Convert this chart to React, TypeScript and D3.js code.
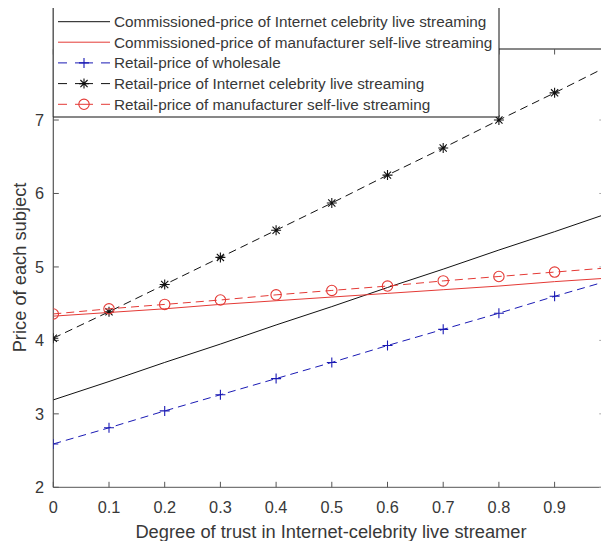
import React from "react";
import * as d3 from "d3";

// Degree of trust in the Internet-celebrity live streamer
const trust = [0, 0.1, 0.2, 0.3, 0.4, 0.5, 0.6, 0.7, 0.8, 0.9, 1.0];

// Price series
const commissionedCelebrity = [3.19, 3.44, 3.70, 3.95, 4.21, 4.46, 4.72, 4.97, 5.23, 5.48, 5.74];
const commissionedManufacturer = [4.33, 4.38, 4.43, 4.49, 4.54, 4.59, 4.64, 4.69, 4.74, 4.80, 4.85];
const retailWholesale = [2.59, 2.81, 3.04, 3.26, 3.48, 3.70, 3.93, 4.15, 4.37, 4.60, 4.82];
const retailCelebrity = [4.03, 4.39, 4.76, 5.13, 5.50, 5.87, 6.25, 6.62, 7.00, 7.37, 7.75];
const retailManufacturer = [4.36, 4.43, 4.49, 4.55, 4.62, 4.68, 4.74, 4.81, 4.87, 4.93, 4.99];

const xTicks = [0, 0.1, 0.2, 0.3, 0.4, 0.5, 0.6, 0.7, 0.8, 0.9];
const yTicks = [2, 3, 4, 5, 6, 7];

const seriesLabels = [
  "Commissioned-price of Internet celebrity live streaming",
  "Commissioned-price of manufacturer self-live streaming",
  "Retail-price of wholesale",
  "Retail-price of Internet celebrity live streaming",
  "Retail-price of manufacturer self-live streaming",
];

type Marker = "none" | "plus" | "star" | "circle";
interface Series {
  label: string;
  values: number[];
  color: string;
  dash: string | undefined;
  marker: Marker;
}

const BLUE = "#1a1ab4";
const RED = "#e43a36";
const BLACK = "#111111";
const AXIS = "#555555";
const TEXT = "#383838";

const series: Series[] = [
  { label: seriesLabels[0], values: commissionedCelebrity, color: BLACK, dash: undefined, marker: "none" },
  { label: seriesLabels[1], values: commissionedManufacturer, color: RED, dash: undefined, marker: "none" },
  { label: seriesLabels[2], values: retailWholesale, color: BLUE, dash: "8,5", marker: "plus" },
  { label: seriesLabels[3], values: retailCelebrity, color: BLACK, dash: "8,5", marker: "star" },
  { label: seriesLabels[4], values: retailManufacturer, color: RED, dash: "8,5", marker: "circle" },
];

const W = 601;
const H = 541;
const left = 53.3;
const bottom = 487.3;
const top = 49;
const xMax = 0.99;
const right = left + 557 * xMax;

const x = d3.scaleLinear().domain([0, xMax]).range([left, right]);
const y = d3.scaleLinear().domain([2, 7.967]).range([bottom, top]);

function MarkerGlyph({ kind, cx, cy, color }: { kind: Marker; cx: number; cy: number; color: string }) {
  const s = 5;
  if (kind === "plus") {
    return (
      <path d={`M${cx - s},${cy}H${cx + s}M${cx},${cy - s}V${cy + s}`} stroke={color} strokeWidth={1.1} fill="none" />
    );
  }
  if (kind === "star") {
    const d = s * 0.72;
    return (
      <path
        d={`M${cx - s},${cy}H${cx + s}M${cx},${cy - s}V${cy + s}M${cx - d},${cy - d}L${cx + d},${cy + d}M${cx - d},${cy + d}L${cx + d},${cy - d}`}
        stroke={color}
        strokeWidth={1.1}
        fill="none"
      />
    );
  }
  if (kind === "circle") {
    return <circle cx={cx} cy={cy} r={5.2} stroke={color} strokeWidth={1.1} fill="none" />;
  }
  return null;
}

export default function App() {
  const line = d3
    .line<number>()
    .x((_, i) => x(trust[i]))
    .y((v) => y(v));

  const legendX = left;
  const legendRight = 499;
  const legendTop = 8;
  const legendBottom = 117;
  const rowY = [21.7, 42.2, 62.9, 83.6, 104.3];
  const sampleX0 = 58;
  const sampleX1 = 110;
  const textX = 114;

  const tickLen = 5.5;

  return (
    <svg
      width={W}
      height={H}
      style={{ position: "absolute", left: 0, top: 0, background: "#fff", overflow: "hidden" }}
      fontFamily="'Liberation Sans', Arial, Helvetica, sans-serif"
    >
      <defs>
        <clipPath id="plot-area">
          <rect x={left} y={top} width={right - left} height={bottom - top} />
        </clipPath>
      </defs>
      <rect x={0} y={0} width={W} height={H} fill="#fff" />

      {/* axes box */}
      <line x1={left} x2={W} y1={bottom} y2={bottom} stroke={AXIS} strokeWidth={1} />
      <line x1={left} x2={W} y1={top} y2={top} stroke={BLACK} strokeWidth={1} />
      <line x1={left} x2={left} y1={legendTop} y2={bottom} stroke={AXIS} strokeWidth={1.2} />

      {/* x ticks */}
      {xTicks.map((t) => (
        <g key={`xt${t}`}>
          <line x1={x(t)} x2={x(t)} y1={bottom} y2={bottom - tickLen} stroke={AXIS} />
          <line x1={x(t)} x2={x(t)} y1={top} y2={top + tickLen} stroke={AXIS} />
          <text x={x(t)} y={513.3} textAnchor="middle" fontSize={16.3} fill={TEXT}>
            {d3.format("~g")(t)}
          </text>
        </g>
      ))}

      {/* y ticks */}
      {yTicks.map((t) => (
        <g key={`yt${t}`}>
          <line x1={left} x2={left + tickLen} y1={y(t)} y2={y(t)} stroke={AXIS} />
          <line x1={right - tickLen} x2={W} y1={y(t)} y2={y(t)} stroke="#aaa" />
          <text x={44} y={y(t) + 6} textAnchor="end" fontSize={16.3} fill={TEXT}>
            {t}
          </text>
        </g>
      ))}

      {/* series */}
      <g clipPath="url(#plot-area)">
        {series.map((s, si) => (
          <g key={`s${si}`}>
            <path d={line(s.values) ?? ""} fill="none" stroke={s.color} strokeWidth={1} strokeDasharray={s.dash} />
            {s.marker !== "none" &&
              s.values.map((v, i) => (
                <MarkerGlyph key={i} kind={s.marker} cx={x(trust[i])} cy={y(v)} color={s.color} />
              ))}
          </g>
        ))}
      </g>

      {/* legend */}
      <rect x={legendX} y={0} width={legendRight - legendX} height={legendBottom} fill="#fff" />
      <line x1={legendX} x2={legendX} y1={legendTop} y2={legendBottom} stroke={AXIS} strokeWidth={1.2} />
      <line x1={legendRight} x2={legendRight} y1={legendTop} y2={legendBottom} stroke={BLACK} strokeWidth={1} />
      <line x1={legendX} x2={legendRight} y1={legendBottom} y2={legendBottom} stroke={BLACK} strokeWidth={1} />
      {series.map((s, i) => {
        const cy = rowY[i];
        const mid = (sampleX0 + sampleX1) / 2;
        return (
          <g key={`lg${i}`}>
            {s.dash ? (
              <>
                <line x1={sampleX0} x2={sampleX0 + 9} y1={cy} y2={cy} stroke={s.color} strokeWidth={1} />
                <line x1={mid - 9} x2={mid + 9} y1={cy} y2={cy} stroke={s.color} strokeWidth={1} />
                <line x1={sampleX1 - 9} x2={sampleX1} y1={cy} y2={cy} stroke={s.color} strokeWidth={1} />
                <MarkerGlyph kind={s.marker} cx={mid} cy={cy} color={s.color} />
              </>
            ) : (
              <line x1={sampleX0} x2={sampleX1} y1={cy} y2={cy} stroke={s.color} strokeWidth={1} />
            )}
            <text x={textX} y={cy + 5.4} fontSize={15.3} fill={TEXT}>
              {s.label}
            </text>
          </g>
        );
      })}

      {/* axis titles */}
      <text x={331} y={538} textAnchor="middle" fontSize={18.3} fill={TEXT}>
        Degree of trust in Internet-celebrity live streamer
      </text>
      <text
        transform={`translate(25.5, ${(353 + 182) / 2}) rotate(-90)`}
        textAnchor="middle"
        fontSize={18.3}
        fill={TEXT}
      >
        Price of each subject
      </text>
    </svg>
  );
}
